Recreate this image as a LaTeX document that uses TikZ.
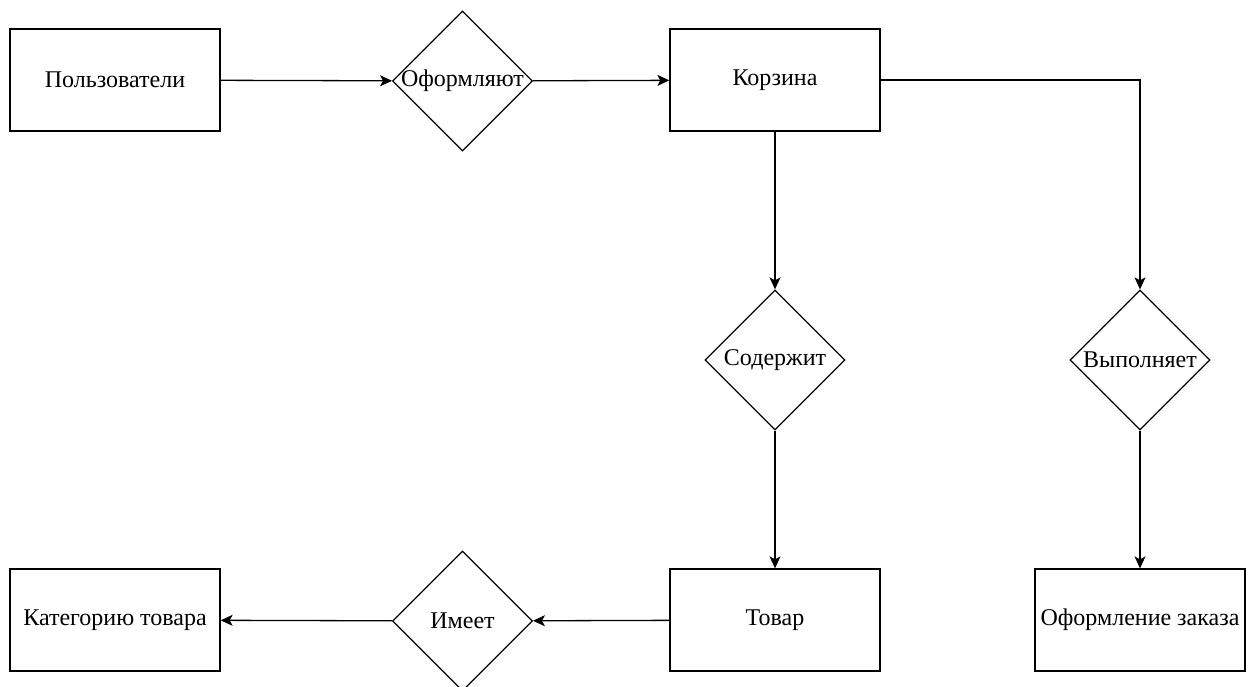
\documentclass[tikz,border=0pt]{standalone}
\usepackage{fontspec}
\setmainfont{Liberation Serif}
\usetikzlibrary{shapes.geometric,arrows.meta}
\begin{document}
\begin{tikzpicture}[x=1pt,y=-1pt,
  ent/.style={draw, line width=1.3pt, minimum width=210pt, minimum height=102pt, inner sep=0pt, font=\fontsize{24}{28}\selectfont},
  rel/.style={draw, diamond, line width=1.3pt, minimum width=140pt, minimum height=140pt, inner sep=0pt, label={[font=\fontsize{24}{28}\selectfont, inner sep=0pt]center:#1}},
  conn/.style={line width=1.3pt, -{Stealth[length=12pt,width=11pt,inset=3pt]}}]
\useasboundingbox (0,0) rectangle (1253,686);
\node[ent] (users) at (115,80) {Пользователи};
\node[rel=Оформляют] (d1) at (462.5,81) {};
\node[ent] (cart) at (775,80) {Корзина};
\node[rel=Содержит] (cont) at (775,360) {};
\node[rel=Выполняет] (exec) at (1140,360) {};
\node[ent] (tovar) at (775,620) {Товар};
\node[ent] (order) at (1140,620) {Оформление заказа};
\node[rel=Имеет] (imeet) at (462.5,621) {};
\node[ent] (cat) at (115,620) {Категорию товара};
\draw[conn] (users) -- (d1);
\draw[conn] (d1) -- (cart);
\draw[conn] (cart) -- (cont);
\draw[conn] (cart.east) -| (exec.north);
\draw[conn] (cont) -- (tovar);
\draw[conn] (exec) -- (order);
\draw[conn] (tovar) -- (imeet);
\draw[conn] (imeet) -- (cat);
\end{tikzpicture}
\end{document}
